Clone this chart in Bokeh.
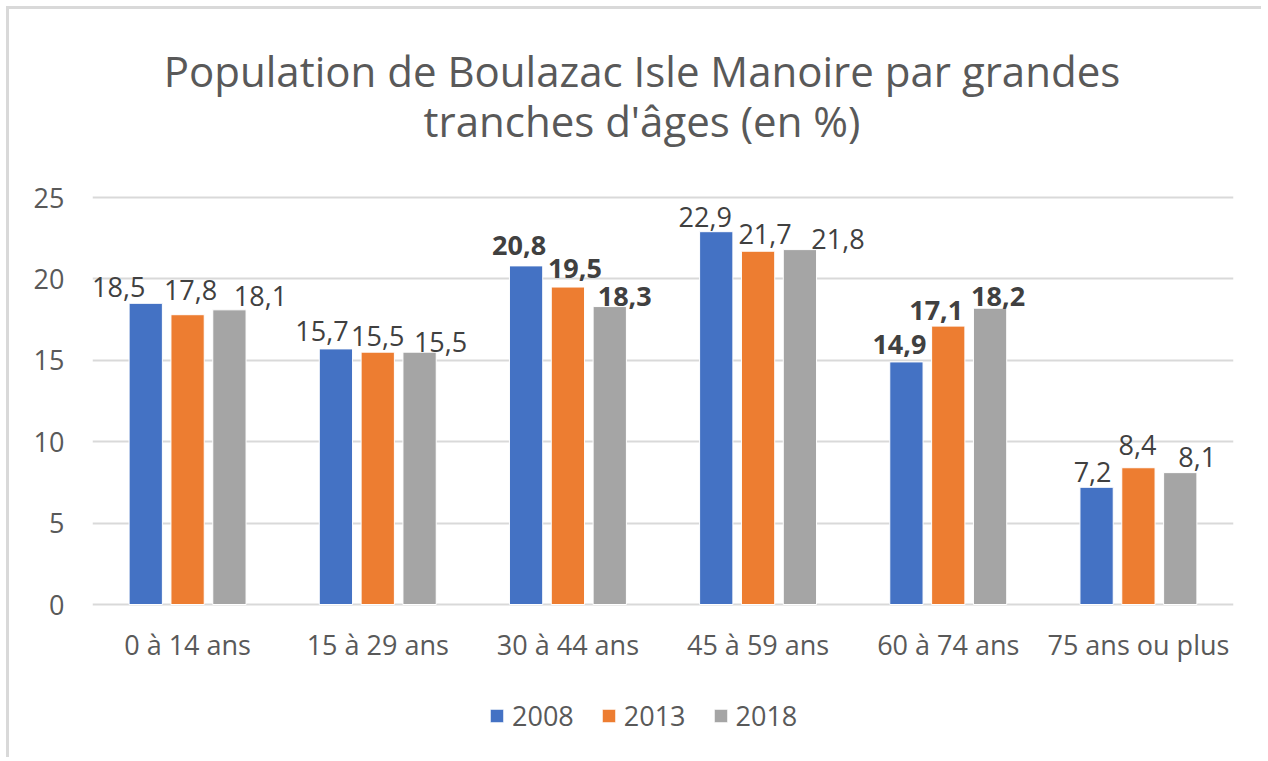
from bokeh.plotting import figure
from bokeh.models import (ColumnDataSource, FactorRange, Range1d, FixedTicker, Legend,
                          LegendItem, Label)
from bokeh.layouts import column
from bokeh.transform import dodge
from bokeh.core.properties import value
from bokeh.embed import file_html
from bokeh.resources import INLINE

# ---- data ----
categories = ["0 à 14 ans", "15 à 29 ans", "30 à 44 ans", "45 à 59 ans", "60 à 74 ans", "75 ans ou plus"]
years = ["2008", "2013", "2018"]
v2008 = [18.5, 15.7, 20.8, 22.9, 14.9, 7.2]
v2013 = [17.8, 15.5, 19.5, 21.7, 17.1, 8.4]
v2018 = [18.1, 15.5, 18.3, 21.8, 18.2, 8.1]
bold_groups = ["30 à 44 ans", "60 à 74 ans"]
title_lines = ["Population de Boulazac Isle Manoire par grandes", "tranches d'âges (en %)"]
y_ticks = [0, 5, 10, 15, 20, 25]

# label nudges (screen px) as placed in the original chart
dx2008 = [-27, -14, -7, -11, -7, -4]
dx2013 = [3, 0, 7, 7, -12, -1]
dx2018 = [31, 21, 15, 38, 8, 17]
dy2008 = [8, 10, 12, 7, 9, 7]
dy2013 = [17, 8, 11, 9, 8, 15]
dy2018 = [6, 2, 2, 3, 4, 8]

colors = ["#4472C4", "#ED7D31", "#A5A5A5"]
FONT = "Open Sans"

# layout geometry (px)
W, H = 1252, 748
PX_LEFT, PX_RIGHT = 83, 28          # frame margins for the y-axis labels
PX_ABOVE, PX_PLOT, PX_BELOW = 188, 407, 153   # space above 25, between 0 and 25, below 0
YMAX = 25
per_px = YMAX / PX_PLOT
BASE_FIX = 8   # baseline correction for text

def fmt(v):
    return ("%.1f" % v).replace(".", ",")

p = figure(x_range=FactorRange(*categories, range_padding=0),
           y_range=Range1d(-PX_BELOW * per_px, YMAX + PX_ABOVE * per_px),
           width=W, height=H, x_axis_location=None,
           output_backend="svg", toolbar_location=None,
           min_border_left=PX_LEFT, min_border_right=PX_RIGHT,
           min_border_top=0, min_border_bottom=0,
           background_fill_color="white", border_fill_color="white")
p.outline_line_color = None

offsets = [-0.22, 0.0, 0.22]
series = [v2008, v2013, v2018]
dxs = [dx2008, dx2013, dx2018]
dys = [dy2008, dy2013, dy2018]
renderers = []
for yr, vals, off, col, dx, dy in zip(years, series, offsets, colors, dxs, dys):
    src = ColumnDataSource(dict(
        cat=categories, val=vals,
        lab=[fmt(v) for v in vals],
        dx=dx, dy=[-(d + BASE_FIX) for d in dy],
        fs=["bold" if c in bold_groups else "normal" for c in categories],
    ))
    r = p.vbar(x=dodge("cat", off, range=p.x_range), top="val", width=0.175, source=src,
               fill_color=col, line_color="white", line_width=1)
    renderers.append(r)
    p.text(x=dodge("cat", off, range=p.x_range), y="val", text="lab", source=src,
           x_offset="dx", y_offset="dy", text_align="center", text_baseline="alphabetic",
           text_font=value(FONT), text_font_size="27px", text_color="#404040",
           text_font_style="fs")

# category labels under the baseline
cat_src = ColumnDataSource(dict(cat=categories))
p.text(x="cat", y=0, text="cat", source=cat_src, y_offset=40,
       text_align="center", text_baseline="alphabetic",
       text_font=value(FONT), text_font_size="27px", text_color="#595959")

# y axis
p.yaxis.ticker = FixedTicker(ticks=y_ticks)
p.yaxis.axis_line_color = None
p.yaxis.major_tick_line_color = None
p.yaxis.minor_tick_line_color = None
p.yaxis.major_tick_out = 0
p.yaxis.major_tick_in = 0
p.yaxis.minor_tick_out = 0
p.yaxis.major_label_standoff = 28
p.yaxis.major_label_text_font = FONT
p.yaxis.major_label_text_font_size = "27px"
p.yaxis.major_label_text_color = "#595959"

p.xgrid.grid_line_color = None
p.ygrid.grid_line_color = "#d9d9d9"
p.ygrid.grid_line_width = 2

# title (two lines)
for i, line in enumerate(title_lines):
    p.add_layout(Label(x=3, y=YMAX, x_offset=-21, y_offset=127 - 50 * i, text=line,
                       text_align="center", text_baseline="alphabetic",
                       text_font=FONT, text_font_size="42px", text_color="#595959"))

legend = Legend(items=[LegendItem(label=yr, renderers=[r]) for yr, r in zip(years, renderers)],
                orientation="horizontal", location=(396, 23),
                label_text_font=FONT, label_text_font_size="27px", label_text_color="#595959",
                glyph_width=17, glyph_height=17, label_standoff=7, spacing=26,
                border_line_color=None, background_fill_alpha=0, margin=0, padding=0)
p.add_layout(legend, "center")

layout = column(p, margin=(6, 0, 0, 6),
                styles={"border-top": "3px solid #d9d9d9", "border-left": "3px solid #d9d9d9"})
open("out.html", "w").write(file_html(layout, INLINE))
